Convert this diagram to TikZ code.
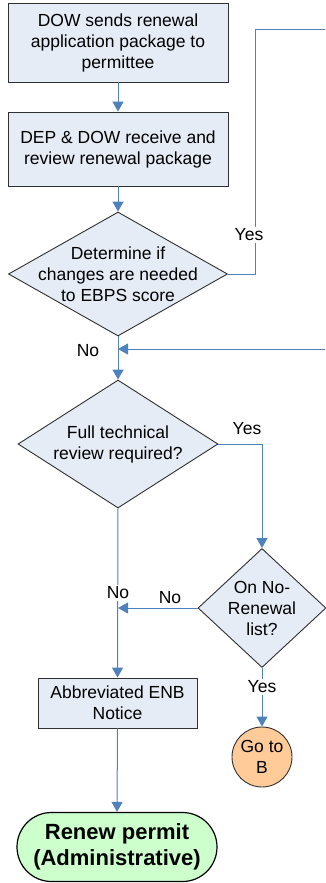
\documentclass[tikz,border=0pt]{standalone}
\usepackage{fontspec}
\setmainfont{Liberation Sans}
\usetikzlibrary{shapes.geometric,shapes.misc,arrows.meta}
\definecolor{boxfill}{HTML}{E6ECF6}
\definecolor{flow}{HTML}{4F81BD}
\definecolor{goorange}{HTML}{FFCC99}
\definecolor{termgreen}{HTML}{CCFFCC}
\definecolor{edge}{HTML}{303030}
\tikzset{
  txt/.style={font=\fontsize{17.5}{21}\selectfont, align=center, inner sep=0pt},
  procbox/.style={draw=edge, line width=0.9pt, fill=boxfill, minimum width=220pt, inner sep=0pt},
  decision/.style={diamond, draw=edge, line width=0.9pt, fill=boxfill, inner sep=0pt},
  flowline/.style={draw=flow, line width=1pt},
  flowarrow/.style={flowline, -{Triangle[width=11pt,length=10pt]}},
  lbl/.style={font=\fontsize{17.5}{21}\selectfont, inner sep=1pt},
  lblw/.style={lbl, fill=white, inner sep=1.5pt},
}
\begin{document}
\begin{tikzpicture}[x=1pt,y=-1pt]
\useasboundingbox (0,0) rectangle (325,883);
% nodes
\node[procbox, minimum height=79pt] (b1) at (118,42.5) {};
\node[txt] at (b1) {DOW sends renewal\\application package to\\permittee};
\node[procbox, minimum height=74pt] (b2) at (118,149) {};
\node[txt] at (b2) {DEP \& DOW receive and\\review renewal package};
\node[decision, minimum width=219pt, minimum height=124pt] (d1) at (118,274) {};
\node[txt] at (d1) {Determine if\\changes are needed\\to EBPS score};
\node[decision, minimum width=200pt, minimum height=128pt] (d2) at (118,444) {};
\node[txt] at (d2) {Full technical\\review required?};
\node[decision, minimum width=128pt, minimum height=119pt] (d3) at (262,608) {};
\node[txt] at (d3) {On No-\\Renewal\\list?};
\node[circle, draw=edge, line width=0.9pt, fill=goorange, minimum size=60pt, inner sep=0pt] (go) at (262,757) {};
\node[txt] at (go) {Go to\\B};
\node[procbox, minimum width=159pt, minimum height=50pt] (b3) at (117.5,703) {};
\node[txt] at (b3) {Abbreviated ENB\\Notice};
\node[rounded rectangle, draw=black, line width=1.2pt, fill=termgreen, minimum width=200pt, minimum height=69pt, inner sep=0pt] (term) at (117,847) {};
\node[txt, font=\fontsize{22}{26}\bfseries\selectfont] at (term) {Renew permit\\(Administrative)};
% coordinates
\coordinate (c1) at (255,30);
\coordinate (yesTop) at (325,30);
\coordinate (retR) at (325,349);
\coordinate (m1) at (118,349);
\coordinate (m2) at (118,608);
% connectors
\draw[flowarrow] (b1.south) -- (b2.north);
\draw[flowarrow] (b2.south) -- (d1.north);
\draw[flowline] (d1.east) -| (c1) -- (yesTop);
\draw[flowarrow] (retR) -- (m1);
\draw[flowarrow] (d1.south) -- (d2.north);
\draw[flowarrow] (d2.east) -| (d3.north);
\draw[flowarrow] (d3.west) -- (m2);
\draw[flowarrow] (d2.south) -- (b3.north);
\draw[flowarrow] (d3.south) -- (go.north);
\draw[flowarrow] (b3.south) -- (term.north);
% labels
\node[lblw] at (249,235) {Yes};
\node[lbl] at (88,351) {No};
\node[lbl] at (247,429) {Yes};
\node[lblw] at (118,593) {No};
\node[lbl] at (170,598) {No};
\node[lblw] at (262,687) {Yes};
\end{tikzpicture}
\end{document}
